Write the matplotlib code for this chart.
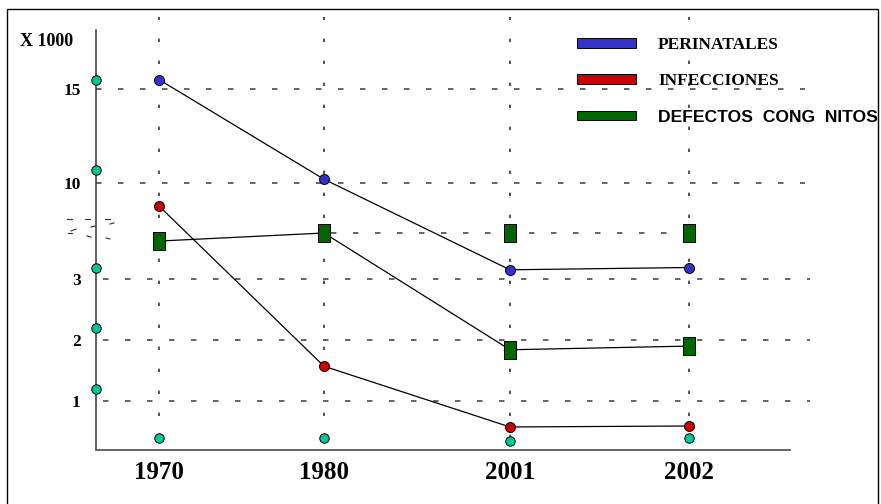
import numpy as np
import matplotlib
matplotlib.use('Agg')
import matplotlib.pyplot as plt
from matplotlib.path import Path
from matplotlib.patches import Rectangle, Patch
from matplotlib.lines import Line2D

# ---------------- data ----------------
years = ['1970', '1980', '2001', '2002']
perinatales = [15.5, 10.2, 3.4, 3.5]
infecciones = [7.7, 1.57, 0.47, 0.49]
defectos = [4.65, 5.0, 1.84, 1.9]
defectos_extra_years = ['2001', '2002']
defectos_extra = [5.0, 5.0]
axis_dots = [15.5, 10.7, 3.5, 2.2, 1.2]
base_dots = [0.25, 0.25, 0.18, 0.25]
ytick_vals = [1, 2, 3, 10, 15]
ytick_labels = ['1', '2', '3', '10', '15']
unlabeled_grid = [5]
legend_labels = ['PERINATALES', 'INFECCIONES', 'DEFECTOS  CONG  NITOS']

# piecewise (broken) value axis of the original drawing
scale_v = [-1, 0, 1, 2, 3, 5, 10, 15, 20]
scale_u = [-49, 0, 49, 110, 171, 217, 267, 361, 455]
# uneven spacing of the year categories in the original drawing
xscale_i = [-1, 0, 1, 2, 3, 4]
xscale_u = [-165, 0, 165, 351, 530, 709]


def fwd(v):
    return np.interp(v, scale_v, scale_u, left=-49, right=455)


def inv(u):
    return np.interp(u, scale_u, scale_v, left=-1, right=20)


def xfwd(i):
    return np.interp(i, xscale_i, xscale_u)


def xinv(u):
    return np.interp(u, xscale_u, xscale_i)


c_blue = '#3333CC'
c_red = '#CC0000'
c_green = '#006600'
c_teal = '#00C896'

W, H = 881, 504
fig = plt.figure(figsize=(W / 100, H / 100), dpi=100)
ax = fig.add_axes([96 / W, 54 / H, 694 / W, 420 / H])
ax.set_yscale('function', functions=(fwd, inv))
ax.set_xscale('function', functions=(xfwd, xinv))

x = np.arange(len(years))


def xp(pix):
    return float(xinv(pix - 159))


xmin, xmax = xp(96), xp(790)
ax.set_xlim(xmin, xmax)
ax.set_ylim(0, float(inv(420)))

serif = 'Liberation Serif'
sans = 'Liberation Sans'

# ---------------- grid ----------------
hdash = (0, (3.6, 10.8))
vdash = (0, (2.2, 12.2))
gcol = '#3a3a3a'
for v in [15, 10]:
    ax.plot([xmin, xp(805)], [v, v], color=gcol, lw=1.1,
            ls=hdash, clip_on=False, zorder=1)
for v in [3, 2, 1]:
    ax.plot([xp(103), xp(810)], [v, v], color=gcol,
            lw=1.1, ls=hdash, clip_on=False, zorder=1)
for v in unlabeled_grid:
    ax.plot([xp(331), xp(695)], [v, v], color=gcol,
            lw=1.1, ls=hdash, clip_on=False, zorder=1)
top_v = float(inv(450 - 17))
for xi in x:
    ax.plot([xi, xi], [0.25, top_v], color='#222222', lw=1.1, ls=vdash,
            clip_on=False, zorder=1)

# ---------------- series ----------------
rect = Path([(-0.33, -0.5), (0.33, -0.5), (0.33, 0.5), (-0.33, 0.5), (-0.33, -0.5)],
            [Path.MOVETO, Path.LINETO, Path.LINETO, Path.LINETO, Path.CLOSEPOLY])

ax.plot(x, perinatales, color='black', lw=0.9, marker='o', ms=7.2,
        mfc=c_blue, mec='black', mew=0.7, zorder=3, clip_on=False)
ax.plot(x, infecciones, color='black', lw=0.9, marker='o', ms=7.2,
        mfc=c_red, mec='black', mew=0.7, zorder=3, clip_on=False)
ax.plot(x, defectos, color='black', lw=0.9, marker=rect, ms=12.5,
        mfc=c_green, mec='black', mew=0.7, zorder=3, clip_on=False)
xe = [years.index(y) for y in defectos_extra_years]
ax.plot(xe, defectos_extra, ls='none', marker=rect, ms=12.5,
        mfc=c_green, mec='black', mew=0.7, zorder=3, clip_on=False)

ax.plot([xmin] * len(axis_dots), axis_dots, ls='none', marker='o', ms=6.8,
        mfc=c_teal, mec='black', mew=0.7, zorder=4, clip_on=False)
ax.plot(x, base_dots, ls='none', marker='o', ms=6.8,
        mfc=c_teal, mec='black', mew=0.7, zorder=4, clip_on=False)

# ---------------- axes ----------------
for s in ['top', 'right']:
    ax.spines[s].set_visible(False)
ax.spines['left'].set_color('#333333')
ax.spines['left'].set_linewidth(1.1)
ax.spines['bottom'].set_color('#666666')
ax.spines['bottom'].set_linewidth(1.4)

ax.set_yticks(ytick_vals)
ax.set_yticklabels(ytick_labels, fontfamily=serif, fontweight='bold', fontsize=12.5)
ax.minorticks_off()
ax.set_xticks(x)
ax.set_xticklabels(years, fontfamily=serif, fontweight='bold', fontsize=18)
ax.tick_params(axis='y', length=0, pad=11)
ax.tick_params(axis='x', length=0, pad=8)

fig.text(20 / W, 1 - 41 / H, 'X 1000', fontfamily=serif, fontweight='bold',
         fontsize=13, ha='left', va='center')

# ---------------- legend ----------------
fs = 12.5
px = fs / 0.72
handles = [Patch(facecolor=c, edgecolor='black', lw=0.7) for c in [c_blue, c_red, c_green]]
leg = fig.legend(handles, legend_labels, loc='upper left',
                 bbox_to_anchor=(577 / W, 1 - 37 / H), bbox_transform=fig.transFigure,
                 frameon=False, borderpad=0, borderaxespad=0,
                 handlelength=59 / px, handleheight=8 / px,
                 handletextpad=22 / px, labelspacing=(39.5 - px * 1.1) / px,
                 prop={'family': serif, 'weight': 'bold', 'size': fs})
leg.get_texts()[2].set_fontfamily(sans)
leg.get_texts()[2].set_fontsize(12.6)

# ---------------- frame & break marks ----------------
fig.patches.append(Rectangle((7 / W, -0.05), (878 - 7) / W, (1 - 9 / H) + 0.05,
                             transform=fig.transFigure, fill=False,
                             ec='black', lw=1.0))
marks = [((67, 72), (219, 219)), ((85, 90), (219, 219)), ((105, 110), (219, 219)),
         ((71, 76), (231, 229)), ((91, 95), (227, 226)), ((110, 114), (224, 223)),
         ((68, 72), (233, 233)), ((87, 91), (236, 237)), ((106, 110), (238, 239))]
for (xs, ys) in marks:
    fig.lines.append(Line2D([xx / W for xx in xs], [1 - yy / H for yy in ys],
                            transform=fig.transFigure, color='#333333', lw=0.8))

fig.savefig('out.png', dpi=100)
